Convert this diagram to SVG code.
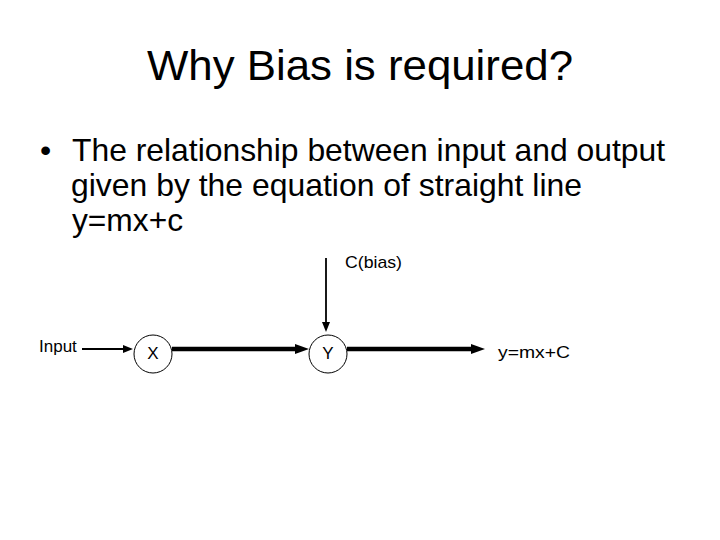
<svg xmlns="http://www.w3.org/2000/svg" width="720" height="540" viewBox="0 0 720 540">
<defs>
<style>
text{font-family:"Liberation Sans",Arial,sans-serif;fill:#000}
.title{font-size:42px}
.body{font-size:32px}
.lbl{font-size:17px}
.node{fill:#fff;stroke:#000;stroke-width:1}
.thin{stroke:#000;stroke-width:1.8;fill:none}
.thick{stroke:#000;stroke-width:4.5;fill:none}
</style>
<marker id="ahThin" markerUnits="userSpaceOnUse" markerWidth="10" markerHeight="8" refX="1" refY="4" orient="auto">
<path d="M0,0 L10,4 L0,8 z" fill="#000"/>
</marker>
<marker id="ahThick" markerUnits="userSpaceOnUse" markerWidth="14" markerHeight="10" refX="2" refY="5" orient="auto">
<path d="M0,0 L14,5 L0,10 z" fill="#000"/>
</marker>
</defs>
<rect width="720" height="540" fill="#fff"/>
<text class="title" x="147" y="80" textLength="426" lengthAdjust="spacingAndGlyphs">Why Bias is required?</text>
<text class="body" x="40" y="161">•</text>
<text class="body" x="72" y="161" textLength="593" lengthAdjust="spacingAndGlyphs">The relationship between input and output</text>
<text class="body" x="71" y="196" textLength="511" lengthAdjust="spacingAndGlyphs">given by the equation of straight line</text>
<text class="body" x="72" y="231" textLength="111" lengthAdjust="spacingAndGlyphs">y=mx+c</text>
<g id="connectors">
<line class="thin" x1="82" y1="349" x2="124" y2="349" marker-end="url(#ahThin)"/>
<line class="thick" x1="172" y1="349" x2="297" y2="349" marker-end="url(#ahThick)"/>
<line class="thick" x1="347" y1="349" x2="473" y2="349" marker-end="url(#ahThick)"/>
<line class="thin" x1="326" y1="258" x2="326" y2="323" marker-end="url(#ahThin)"/>
</g>
<g id="input"><text class="lbl" x="39" y="352">Input</text></g>
<g id="bias"><text class="lbl" x="345" y="268" textLength="57" lengthAdjust="spacingAndGlyphs">C(bias)</text></g>
<g id="nodeX"><circle class="node" cx="153" cy="354" r="19"/><text class="lbl" x="153" y="359" text-anchor="middle">X</text></g>
<g id="nodeY"><circle class="node" cx="328" cy="354" r="19"/><text class="lbl" x="328" y="359" text-anchor="middle">Y</text></g>
<g id="output"><text class="lbl" x="498" y="358" textLength="72" lengthAdjust="spacingAndGlyphs">y=mx+C</text></g>
</svg>
